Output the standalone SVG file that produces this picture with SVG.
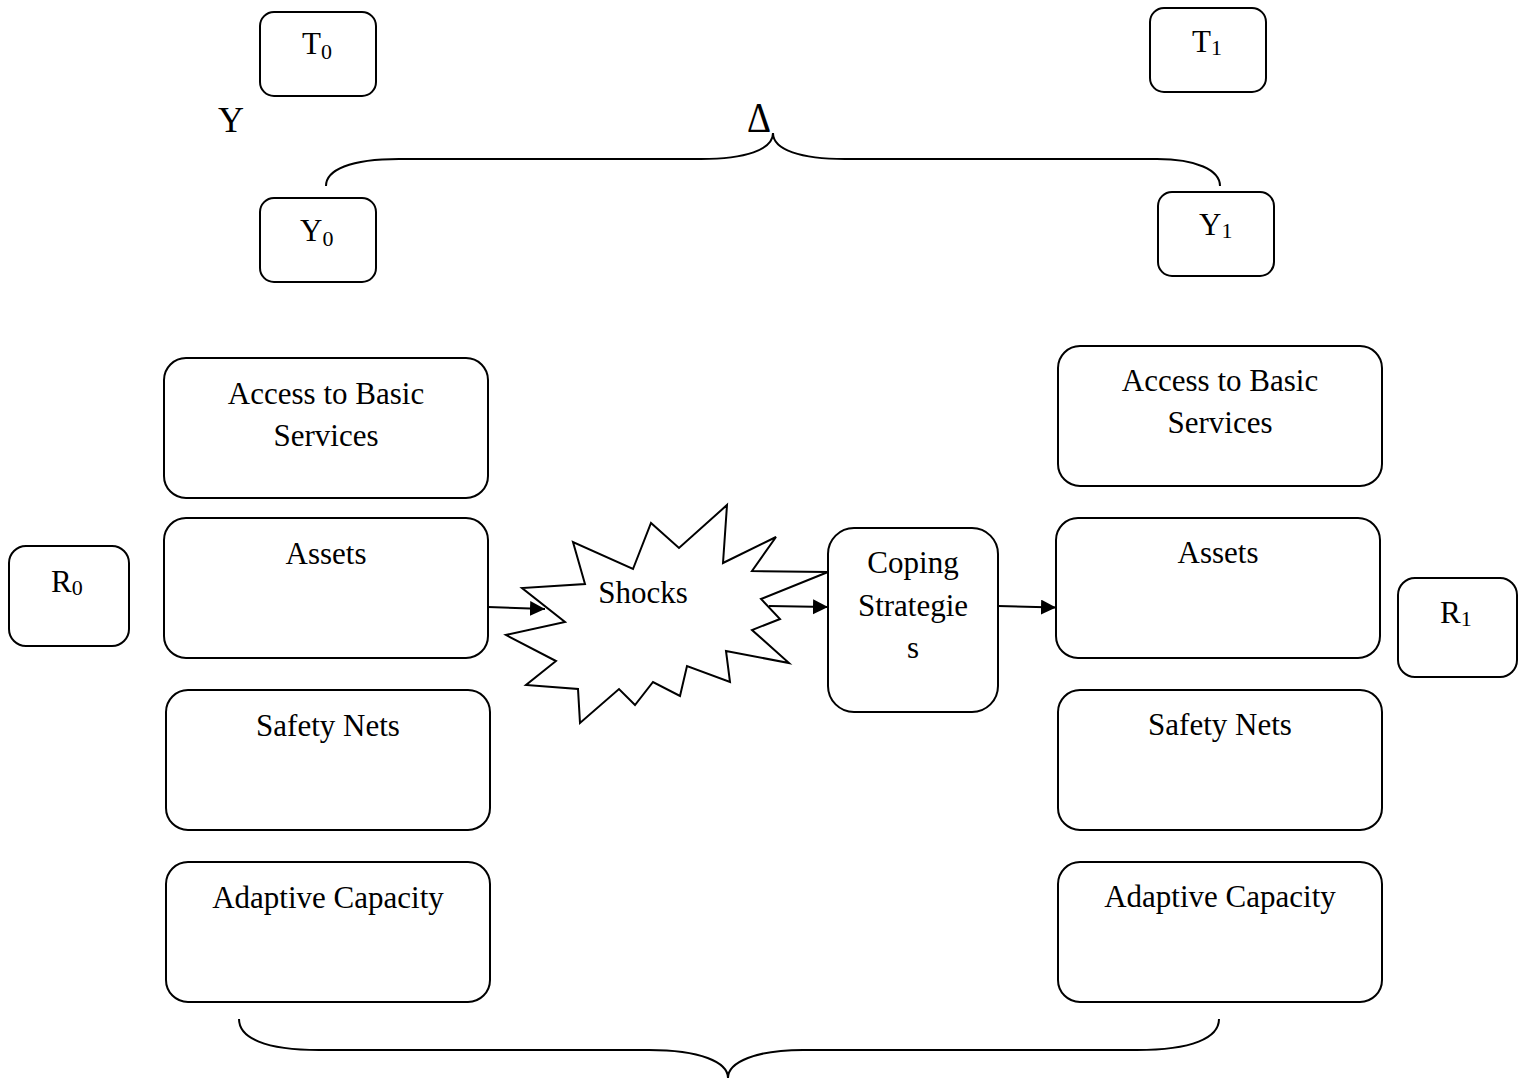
<svg xmlns="http://www.w3.org/2000/svg" width="1523" height="1078" viewBox="0 0 1523 1078">
<style>
.box{fill:#fff;stroke:#000;stroke-width:2}
.t{font-family:"Liberation Serif","Times New Roman",serif;font-size:31px;fill:#000;text-anchor:middle}
.tl{font-family:"Liberation Serif","Times New Roman",serif;font-size:31px;fill:#000}
.sub{font-size:22px}
.line{fill:none;stroke:#000;stroke-width:2}
</style>
<defs>
<marker id="arr" markerUnits="userSpaceOnUse" markerWidth="16" markerHeight="16" refX="15" refY="7.5" orient="auto">
<path d="M0,0 L15,7.5 L0,15 z" fill="#000"/>
</marker>
</defs>
<rect width="1523" height="1078" fill="#fff"/>

<g id="T0"><rect class="box" x="260" y="12" width="116" height="84" rx="14"/><text class="tl" x="302" y="54">T<tspan class="sub" dy="5">0</tspan></text></g>
<g id="T1"><rect class="box" x="1150" y="8" width="116" height="84" rx="14"/><text class="tl" x="1192" y="52">T<tspan class="sub" dy="3">1</tspan></text></g>
<g id="Ylabel"><text class="tl" x="218" y="132" style="font-size:36px">Y</text></g>
<g id="Delta"><text class="tl" x="747" y="132" style="font-size:42px" textLength="24" lengthAdjust="spacingAndGlyphs">Δ</text></g>
<g id="Y0"><rect class="box" x="260" y="198" width="116" height="84" rx="14"/><text class="tl" x="300" y="241">Y<tspan class="sub" dy="5">0</tspan></text></g>
<g id="Y1"><rect class="box" x="1158" y="192" width="116" height="84" rx="14"/><text class="tl" x="1199" y="235">Y<tspan class="sub" dy="3">1</tspan></text></g>

<g id="R0"><rect class="box" x="9" y="546" width="120" height="100" rx="17"/><text class="tl" x="51" y="592">R<tspan class="sub" dy="3">0</tspan></text></g>
<g id="R1"><rect class="box" x="1398" y="578" width="119" height="99" rx="17"/><text class="tl" x="1440" y="623">R<tspan class="sub" dy="3">1</tspan></text></g>

<g id="AccessL"><rect class="box" x="164" y="358" width="324" height="140" rx="22"/><text class="t" x="326" y="404">Access to Basic</text><text class="t" x="326" y="446">Services</text></g>
<g id="AssetsL"><rect class="box" x="164" y="518" width="324" height="140" rx="22"/><text class="t" x="326" y="564">Assets</text></g>
<g id="SafetyL"><rect class="box" x="166" y="690" width="324" height="140" rx="22"/><text class="t" x="328" y="736">Safety Nets</text></g>
<g id="AdaptiveL"><rect class="box" x="166" y="862" width="324" height="140" rx="22"/><text class="t" x="328" y="908">Adaptive Capacity</text></g>

<g id="AccessR"><rect class="box" x="1058" y="346" width="324" height="140" rx="22"/><text class="t" x="1220" y="391">Access to Basic</text><text class="t" x="1220" y="433">Services</text></g>
<g id="AssetsR"><rect class="box" x="1056" y="518" width="324" height="140" rx="22"/><text class="t" x="1218" y="563">Assets</text></g>
<g id="SafetyR"><rect class="box" x="1058" y="690" width="324" height="140" rx="22"/><text class="t" x="1220" y="735">Safety Nets</text></g>
<g id="AdaptiveR"><rect class="box" x="1058" y="862" width="324" height="140" rx="22"/><text class="t" x="1220" y="907">Adaptive Capacity</text></g>

<g id="Shocks"><polygon class="box" points="727,505 723,563 776,537 752,571 828,572 761,599 780,619 752,630 789,663 726,651 730,682 687,666 680,696 653,682 635,705 619,689 580,723 578,689 526,685 556,661 506,635 565,622 522,588 585,584 573,542 633,569 651,523 679,548"/><text class="t" x="643" y="603">Shocks</text></g>

<g id="Coping"><rect class="box" x="828" y="528" width="170" height="184" rx="26"/><text class="t" x="913" y="573">Coping</text><text class="t" x="913" y="616">Strategie</text><text class="t" x="913" y="658">s</text></g>

<g id="connectors">
<line class="line" x1="488" y1="607" x2="545" y2="609" marker-end="url(#arr)"/>
<line class="line" x1="769" y1="606" x2="828" y2="607" marker-end="url(#arr)"/>
<line class="line" x1="998" y1="606" x2="1056" y2="607.5" marker-end="url(#arr)"/>
<path class="line" d="M326,186 C326,170 350,159 399,159 L701,159 C745,159 773,150 773,133 C773,150 801,159 845,159 L1157,159 C1196,159 1220,170 1220,186"/>
<path class="line" d="M239,1019 C239,1038 265,1050 319,1050 L649,1050 C700,1050 728,1062 728,1078 C728,1062 756,1050 803,1050 L1137,1050 C1192,1050 1219,1038 1219,1019"/>
</g>
</svg>
